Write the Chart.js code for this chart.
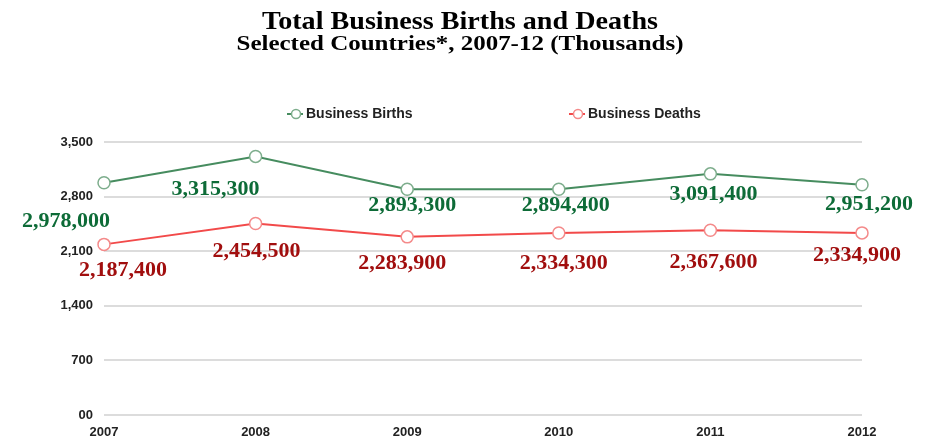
<!DOCTYPE html>
<html>
<head>
<meta charset="utf-8">
<script src="https://cdn.jsdelivr.net/npm/chart.js@4.4.1/dist/chart.umd.min.js"></script>
<style>
  html, body { margin: 0; padding: 0; background: #ffffff; }
  #wrap { width: 933px; height: 439px; }
</style>
</head>
<body>
<div id="wrap"><canvas id="c" width="933" height="439"></canvas></div>
<script>
// ---- data ----
const years = ['2007', '2008', '2009', '2010', '2011', '2012'];
const seriesNames = ['Business Births', 'Business Deaths'];
const births = [2978.0, 3315.3, 2893.3, 2894.4, 3091.4, 2951.2];   // thousands
const deaths = [2187.4, 2454.5, 2283.9, 2334.3, 2367.6, 2334.9];   // thousands
const yTickValues = [0, 700, 1400, 2100, 2800, 3500];
const yTickLabels = ['00', '700', '1,400', '2,100', '2,800', '3,500'];
const titleText = 'Total Business Births and Deaths';
const subtitleText = 'Selected Countries*, 2007-12 (Thousands)';

// ---- styles ----
const birthLine = '#468c5f', birthPoint = '#7dad8c', birthLabel = '#0d6b37';
const deathLine = '#f24a4a', deathPoint = '#f48a8a', deathLabel = '#a10e0e';
const serif = '"Liberation Serif", "Times New Roman", serif';
const sans = '"Liberation Sans", Arial, sans-serif';

function fmt(v) { return Math.round(v * 1000).toLocaleString('en-US'); }

// draws the two heading lines (slightly widened, like the reference)
const headings = {
  id: 'headings',
  afterDraw(chart, args, opts) {
    const ctx = chart.ctx;
    ctx.save();
    ctx.fillStyle = '#000';
    ctx.textAlign = 'center';
    ctx.textBaseline = 'alphabetic';
    opts.lines.forEach(l => {
      ctx.font = 'bold ' + l.size + 'px ' + serif;
      const w = ctx.measureText(l.text).width;
      const sx = l.width / w;
      ctx.save();
      ctx.translate(l.cx, l.baseline);
      ctx.scale(sx, 1);
      ctx.fillText(l.text, 0, 0);
      ctx.restore();
    });
    ctx.restore();
  }
};

const valueLabels = {
  id: 'valueLabels',
  afterDatasetsDraw(chart, args, opts) {
    const ctx = chart.ctx;
    ctx.save();
    ctx.font = 'bold 22px ' + serif;
    ctx.textAlign = 'center';
    ctx.textBaseline = 'middle';
    chart.data.datasets.forEach((ds, di) => {
      const meta = chart.getDatasetMeta(di);
      const offs = opts.offsets[di];
      ctx.fillStyle = opts.colors[di];
      meta.data.forEach((pt, i) => {
        ctx.fillText(fmt(ds.data[i]), pt.x + offs[i][0], pt.y + offs[i][1]);
      });
    });
    ctx.restore();
  }
};

const customLegend = {
  id: 'customLegend',
  afterDraw(chart, args, opts) {
    const ctx = chart.ctx;
    ctx.save();
    ctx.font = 'bold 14px ' + sans;
    ctx.textBaseline = 'middle';
    ctx.textAlign = 'left';
    chart.data.datasets.forEach((ds, di) => {
      const x = opts.xs[di], y = opts.y;
      ctx.strokeStyle = ds.borderColor;
      ctx.lineWidth = 2;
      ctx.beginPath(); ctx.moveTo(x, y); ctx.lineTo(x + 16, y); ctx.stroke();
      ctx.beginPath(); ctx.arc(x + 9, y, 4.5, 0, Math.PI * 2);
      ctx.fillStyle = '#fff'; ctx.fill();
      ctx.strokeStyle = ds.pointBorderColor; ctx.lineWidth = 1.5; ctx.stroke();
      ctx.fillStyle = '#222';
      ctx.fillText(ds.label, x + 19, y);
    });
    ctx.restore();
  }
};

new Chart(document.getElementById('c'), {
  type: 'line',
  data: {
    labels: years,
    datasets: [
      {
        label: seriesNames[0], data: births,
        borderColor: birthLine, borderWidth: 2,
        pointRadius: 6, pointHoverRadius: 6, pointBorderWidth: 1.5,
        pointBorderColor: birthPoint, pointBackgroundColor: '#ffffff',
        tension: 0, clip: false
      },
      {
        label: seriesNames[1], data: deaths,
        borderColor: deathLine, borderWidth: 2,
        pointRadius: 6, pointHoverRadius: 6, pointBorderWidth: 1.5,
        pointBorderColor: deathPoint, pointBackgroundColor: '#ffffff',
        tension: 0, clip: false
      }
    ]
  },
  options: {
    responsive: false,
    animation: false,
    events: [],
    layout: { padding: { left: 0, right: 71, top: 142, bottom: 0 } },
    plugins: {
      legend: { display: false },
      tooltip: { enabled: false },
      title: { display: false },
      subtitle: { display: false },
      headings: {
        lines: [
          { text: titleText, size: 26, width: 396, cx: 460, baseline: 28.5 },
          { text: subtitleText, size: 22, width: 447, cx: 460, baseline: 50 }
        ]
      },
      valueLabels: {
        colors: [birthLabel, deathLabel],
        offsets: [
          [[-38, 39], [-40, 33], [5, 16], [7, 16], [3, 20], [7, 20]],
          [[19, 26], [1, 28], [-5, 26], [5, 30], [3, 32], [-5, 22]]
        ]
      },
      customLegend: { xs: [287, 569], y: 114 }
    },
    scales: {
      x: {
        offset: false,
        afterFit(scale) { scale.height = 24; },
        grid: { display: false, drawTicks: false },
        border: { display: false },
        ticks: {
          color: '#222', padding: 10, maxRotation: 0,
          font: { family: sans, size: 13, weight: 'bold' }
        }
      },
      y: {
        min: 0, max: 3500,
        afterFit(scale) { scale.width = 104; },
        afterBuildTicks(scale) { scale.ticks = yTickValues.map(v => ({ value: v })); },
        grid: { color: '#dcdcdc', lineWidth: 2, drawTicks: false },
        border: { display: false },
        ticks: {
          color: '#222', padding: 11,
          font: { family: sans, size: 13, weight: 'bold' },
          callback(value) { const i = yTickValues.indexOf(value); return i >= 0 ? yTickLabels[i] : ''; }
        }
      }
    }
  },
  plugins: [headings, valueLabels, customLegend]
});
</script>
</body>
</html>
